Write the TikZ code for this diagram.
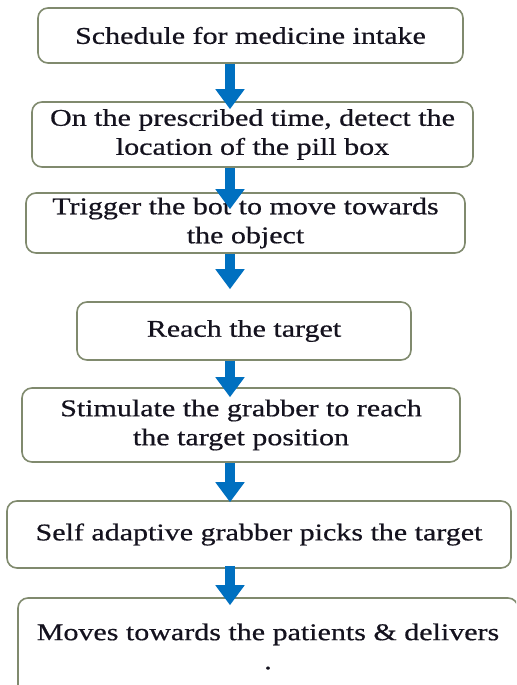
\documentclass[tikz,border=0pt]{standalone}
\usepackage{fontspec}
\setmainfont{Liberation Serif}[FakeStretch=1.25, FakeBold=0.6]
\usetikzlibrary{arrows.meta}
\definecolor{flowblue}{RGB}{0,112,192}
\definecolor{boxline}{RGB}{128,138,110}
\definecolor{inktext}{RGB}{20,18,30}

\begin{document}
\begin{tikzpicture}[
  x=0.5pt, y=-0.5pt,
  proc/.style={draw=boxline, line width=0.8pt, rounded corners=5pt, fill=white,
    align=center, inner sep=0pt, text=inktext,
    font=\fontsize{12}{14.5}\selectfont},
  flow/.style={-{Triangle[length=10pt, width=14pt]}, flowblue, line width=5pt},
]
  \fill[white] (0,0) rectangle (516,685);
  \useasboundingbox (0,0) rectangle (516,685);
  \clip (0,0) rectangle (516,685);

  % Steps
  \node[proc, minimum width=212.5pt, minimum height=27.5pt] (sched) at (250.5,35.5)
    {Schedule for medicine intake};
  \node[proc, minimum width=220.5pt, minimum height=32.5pt] (detect) at (252.5,134.5)
    {On the prescribed time, detect the\\location of the pill box};
  \node[proc, minimum width=219.5pt, minimum height=30pt] (trig) at (245.5,223)
    {Trigger the bot to move towards\\the object};
  \node[proc, minimum width=167pt, minimum height=29pt] (reach) at (244,331)
    {Reach the target};
  \node[proc, minimum width=219pt, minimum height=37pt] (stim) at (241,425)
    {Stimulate the grabber to reach\\the target position};
  \node[proc, minimum width=252pt, minimum height=33.5pt] (grab) at (259,534.5)
    {Self adaptive grabber picks the target};
  \node[proc, minimum width=250pt, minimum height=48.5pt] (deliver) at (268,646.5)
    {Moves towards the patients \& delivers\\.};

  % Arrows
  \coordinate (ax) at (230,0);
  \draw[flow, shorten >=-4pt] (sched.south -| ax) -- (detect.north -| ax);
  \draw[flow, shorten >=-8.5pt] (detect.south -| ax) -- (trig.north -| ax);
  \draw[flow, shorten >=6pt] (trig.south -| ax) -- (reach.north -| ax);
  \draw[flow, shorten >=-5pt] (reach.south -| ax) -- (stim.north -| ax);
  \draw[flow, shorten >=-1pt] (stim.south -| ax) -- (grab.north -| ax);
  \draw[flow, shorten >=-4pt] ([yshift=1.5pt]grab.south -| ax) -- (deliver.north -| ax);
\end{tikzpicture}
\end{document}
